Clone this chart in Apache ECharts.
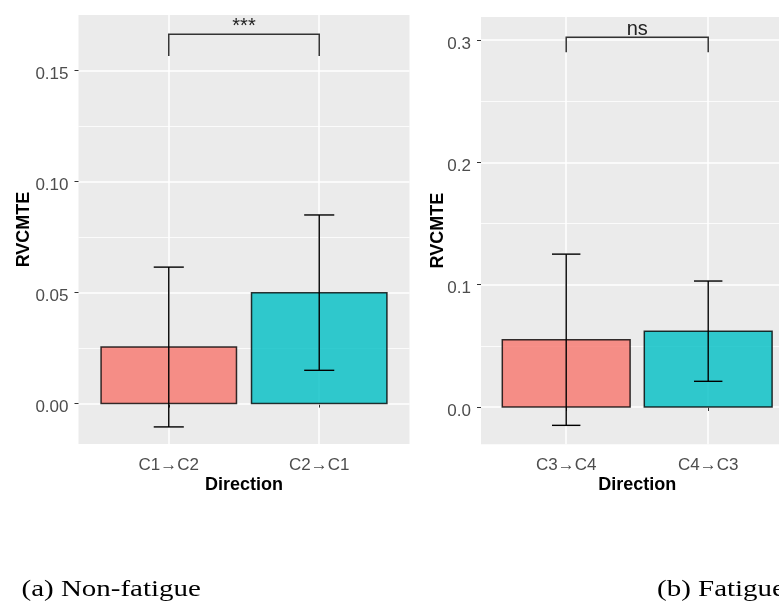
<!DOCTYPE html>
<html>
<head>
<meta charset="utf-8">
<script src="https://cdn.jsdelivr.net/npm/echarts@6/dist/echarts.min.js"></script>
<style>
  html, body { margin: 0; padding: 0; background: #ffffff; }
  #chart { width: 779px; height: 604px; }
</style>
</head>
<body>
<div id="chart"></div>
<script>
// ---- Panel (a): non-fatigue ----
const directionsA = ['C1→C2', 'C2→C1'];
const meansA = [0.0255, 0.050];
const errorsA = [0.036, 0.035];
const yTicksA = [0, 0.05, 0.10, 0.15];
const yTickLabelsA = ['0.00', '0.05', '0.10', '0.15'];
const yMinorA = [0.025, 0.075, 0.125];
const yRangeA = [-0.0182, 0.1751];
const bracketA = ['***', 0.1664, 0.1566];   // label, bar height, tip height

// ---- Panel (b): fatigue ----
const directionsB = ['C3→C4', 'C4→C3'];
const meansB = [0.055, 0.062];
const errorsB = [0.070, 0.041];
const yTicksB = [0, 0.1, 0.2, 0.3];
const yTickLabelsB = ['0.0', '0.1', '0.2', '0.3'];
const yMinorB = [0.05, 0.15, 0.25];
const yRangeB = [-0.0305, 0.3189];
const bracketB = ['ns', 0.3023, 0.290];

const panelCaptions = ['(a) Non-fatigue', '(b) Fatigue'];
const fills = ['rgba(248,118,109,0.8)', 'rgba(0,191,196,0.8)'];

// discrete positions 1..n with ggplot-style 0.6 expansion
const xPos = [1, 2];
const xRange = [0.4, 2.6];

const SANS = 'Liberation Sans, Arial, sans-serif';
const chart = echarts.init(document.getElementById('chart'), null, { renderer: 'canvas' });

function labelFor(ticks, labels) {
  return v => {
    const i = ticks.findIndex(t => Math.abs(t - v) < 1e-9);
    return i >= 0 ? labels[i] : '';
  };
}

function xAxisFor(gridIndex, names) {
  return {
    type: 'value', gridIndex, min: xRange[0], max: xRange[1],
    name: 'Direction', nameLocation: 'middle', nameGap: 32, nameMoveOverlap: false,
    nameTextStyle: { fontFamily: SANS, fontSize: 18, fontWeight: 'bold', color: '#000' },
    axisLine: { show: false },
    axisTick: { show: true, customValues: xPos, length: 4, lineStyle: { color: '#333', width: 1 } },
    axisLabel: {
      customValues: xPos, margin: 13, fontFamily: SANS, fontSize: 17, color: '#4D4D4D',
      formatter: v => names[Math.round(v) - 1] || ''
    },
    splitLine: { show: true, lineStyle: { color: '#ffffff', width: 1.5 } }
  };
}

function yAxisFor(gridIndex, range, ticks, labels, nameGap) {
  return {
    type: 'value', gridIndex, min: range[0], max: range[1],
    name: 'RVCMTE', nameLocation: 'middle', nameGap, nameMoveOverlap: false,
    nameTextStyle: { fontFamily: SANS, fontSize: 18, fontWeight: 'bold', color: '#000' },
    axisLine: { show: false },
    axisTick: { show: true, customValues: ticks, length: 4, lineStyle: { color: '#333', width: 1 } },
    axisLabel: {
      customValues: ticks, margin: 10, fontFamily: SANS, fontSize: 17, color: '#4D4D4D',
      verticalAlign: 'top', lineHeight: 8,
      formatter: labelFor(ticks, labels)
    },
    splitLine: { show: true, lineStyle: { color: '#ffffff', width: 1.5 } },
    z: 1
  };
}

// secondary axis that only draws the thinner minor grid lines
function minorAxisFor(gridIndex, range, minor) {
  return {
    type: 'value', gridIndex, min: range[0], max: range[1],
    axisLine: { show: false },
    axisTick: { show: false, customValues: minor },
    axisLabel: { show: false, customValues: minor },
    splitLine: { show: true, lineStyle: { color: '#ffffff', width: 0.8 } },
    z: 0
  };
}

function barSeries(idx, means) {
  return {
    type: 'custom', xAxisIndex: idx, yAxisIndex: idx * 2, z: 3,
    data: means.map((m, i) => [xPos[i], m]),
    renderItem: (params, api) => {
      const x = api.value(0), y = api.value(1);
      const p0 = api.coord([x - 0.45, y]);
      const p1 = api.coord([x + 0.45, 0]);
      return {
        type: 'rect',
        shape: { x: p0[0], y: p0[1], width: p1[0] - p0[0], height: p1[1] - p0[1] },
        style: { fill: fills[params.dataIndex], stroke: 'rgba(0,0,0,0.8)', lineWidth: 1.5 }
      };
    }
  };
}

function errorSeries(idx, means, errors) {
  return {
    type: 'custom', xAxisIndex: idx, yAxisIndex: idx * 2, z: 4,
    data: means.map((m, i) => [xPos[i], m - errors[i], m + errors[i]]),
    renderItem: (params, api) => {
      const x = api.value(0), lo = api.value(1), hi = api.value(2);
      const b = api.coord([x, lo]), t = api.coord([x, hi]);
      const bl = api.coord([x - 0.1, lo]), br = api.coord([x + 0.1, lo]);
      const tl = api.coord([x - 0.1, hi]), tr = api.coord([x + 0.1, hi]);
      const st = { stroke: '#000', lineWidth: 1.4 };
      return {
        type: 'group', children: [
          { type: 'line', shape: { x1: b[0], y1: b[1], x2: t[0], y2: t[1] }, style: st },
          { type: 'line', shape: { x1: bl[0], y1: bl[1], x2: br[0], y2: br[1] }, style: st },
          { type: 'line', shape: { x1: tl[0], y1: tl[1], x2: tr[0], y2: tr[1] }, style: st }
        ]
      };
    }
  };
}

function bracketSeries(idx, br) {
  return {
    type: 'custom', xAxisIndex: idx, yAxisIndex: idx * 2, z: 5,
    data: [[xPos[0], xPos[1], br[1], br[2]]],
    renderItem: (params, api) => {
      const x1 = api.value(0), x2 = api.value(1), y = api.value(2), tip = api.value(3);
      const pts = [api.coord([x1, tip]), api.coord([x1, y]), api.coord([x2, y]), api.coord([x2, tip])];
      const mid = api.coord([(x1 + x2) / 2, y]);
      return {
        type: 'group', children: [
          { type: 'polyline', shape: { points: pts }, style: { stroke: '#333', lineWidth: 1.5, fill: null } },
          { type: 'text', x: mid[0], y: mid[1] + 2,
            style: { text: br[0], fontFamily: SANS, fontSize: 20, fill: '#222', align: 'center', verticalAlign: 'bottom' } }
        ]
      };
    }
  };
}

const captionFont = '23px "Liberation Serif", "Times New Roman", serif';

const option = {
  backgroundColor: '#ffffff',
  animation: false,
  grid: [
    { left: 78.5, top: 15, width: 331, height: 429, show: true, backgroundColor: '#EBEBEB', borderWidth: 0,
      outerBoundsMode: 'none' },
    { left: 481, top: 17, width: 312.4, height: 427.3, show: true, backgroundColor: '#EBEBEB', borderWidth: 0,
      outerBoundsMode: 'none' }
  ],
  xAxis: [xAxisFor(0, directionsA), xAxisFor(1, directionsB)],
  yAxis: [
    yAxisFor(0, yRangeA, yTicksA, yTickLabelsA, 45), minorAxisFor(0, yRangeA, yMinorA),
    yAxisFor(1, yRangeB, yTicksB, yTickLabelsB, 34), minorAxisFor(1, yRangeB, yMinorB)
  ],
  series: [
    barSeries(0, meansA), errorSeries(0, meansA, errorsA), bracketSeries(0, bracketA),
    barSeries(1, meansB), errorSeries(1, meansB, errorsB), bracketSeries(1, bracketB)
  ],
  graphic: [
    { type: 'text', x: 21.5, y: 578, scaleX: 1.26,
      style: { text: panelCaptions[0], font: captionFont, fill: '#000', verticalAlign: 'top' } },
    { type: 'text', x: 657, y: 578, scaleX: 1.26,
      style: { text: panelCaptions[1], font: captionFont, fill: '#000', verticalAlign: 'top' } }
  ]
};
chart.setOption(option);
</script>
</body>
</html>
